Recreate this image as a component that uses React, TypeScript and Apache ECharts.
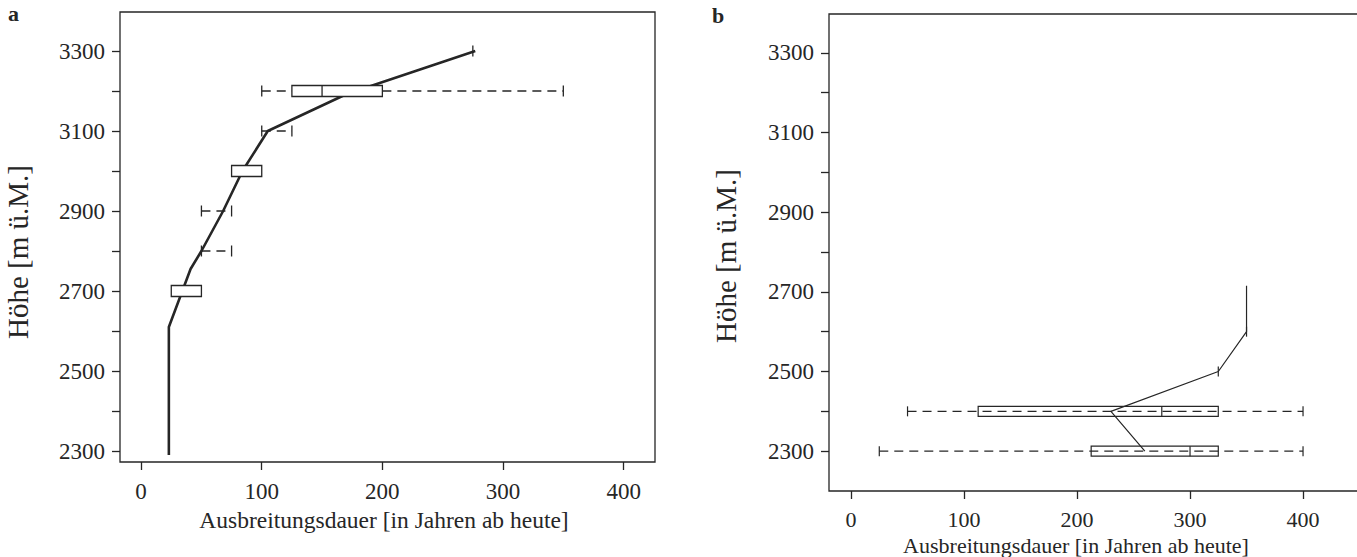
import React, { useEffect, useRef } from "react";
import * as echarts from "echarts";

// ---------- data ----------
const xTicks = [0, 100, 200, 300, 400];
const yTicks = [2300, 2400, 2500, 2600, 2700, 2800, 2900, 3000, 3100, 3200, 3300];
const yLabels = [2300, 2500, 2700, 2900, 3100, 3300];

// panel a: box / whisker rows
const aHeights = [2700, 2800, 2900, 3000, 3100, 3200, 3300];
const aMin = [25, 50, 50, 75, 100, 100, 275];
const aQ1 = [25, null, null, 75, null, 125, null];
const aMed = [null, null, null, null, null, 150, null];
const aQ3 = [50, null, null, 100, null, 200, null];
const aMax = [50, 75, 75, 100, 125, 350, 275];

// panel a: fitted line
const aLineX = [23, 23, 41, 50, 68, 84, 105, 170, 277];
const aLineY = [2290, 2610, 2755, 2800, 2900, 3000, 3100, 3192, 3300];

// panel b: box / whisker rows
const bHeights = [2300, 2400, 2500, 2600];
const bMin = [25, 50, 325, 350];
const bQ1 = [212.5, 112.5, null, null];
const bMed = [300, 275, null, null];
const bQ3 = [325, 325, null, null];
const bMax = [400, 400, 325, 350];

// panel b: line
const bLineX = [260, 230, 325, 350, 350];
const bLineY = [2300, 2400, 2500, 2600, 2715];

const xTitle = "Ausbreitungsdauer [in Jahren ab heute]";
const yTitle = "Höhe [m ü.M.]";

// ---------- helpers ----------
const INK = "#262626";
const FONT = '"Liberation Serif", "DejaVu Serif", serif';

const toRows = (h: number[], mn: any[], q1: any[], md: any[], q3: any[], mx: any[]) =>
  h.map((y, i) => [y, mn[i], q1[i] ?? "-", md[i] ?? "-", q3[i] ?? "-", mx[i]]);

const makeRender = (opts: { fill: string; through: boolean; halfH: number; lw: number }) =>
  (params: any, api: any) => {
    const y = api.value(0);
    const mn = api.value(1);
    const q1 = api.value(2);
    const md = api.value(3);
    const q3 = api.value(4);
    const mx = api.value(5);
    const xp = (v: number) => api.coord([v, y])[0];
    const yp = api.coord([0, y])[1];
    const h = opts.halfH;
    const hasBox = !isNaN(q1) && !isNaN(q3);
    const children: any[] = [];
    const dash = (a: number, b: number) =>
      children.push({
        type: "line",
        shape: { x1: xp(a), y1: yp, x2: xp(b), y2: yp },
        style: { stroke: INK, lineWidth: opts.lw, lineDash: [9, 6] },
      });
    const cap = (v: number) =>
      children.push({
        type: "line",
        shape: { x1: xp(v), y1: yp - h, x2: xp(v), y2: yp + h },
        style: { stroke: INK, lineWidth: opts.lw },
      });
    if (hasBox) {
      children.push({
        type: "rect",
        shape: { x: xp(q1), y: yp - h, width: xp(q3) - xp(q1), height: 2 * h },
        style: { fill: opts.fill, stroke: INK, lineWidth: opts.lw },
      });
      if (!isNaN(md)) {
        children.push({
          type: "line",
          shape: { x1: xp(md), y1: yp - h, x2: xp(md), y2: yp + h },
          style: { stroke: INK, lineWidth: opts.lw },
        });
      }
      if (opts.through) {
        if (mn < mx) dash(mn, mx);
      } else {
        if (mn < q1) dash(mn, q1);
        if (q3 < mx) dash(q3, mx);
      }
      if (mn < q1) cap(mn);
      if (q3 < mx) cap(mx);
    } else {
      if (mn < mx) dash(mn, mx);
      cap(mn);
      if (mx > mn) cap(mx);
    }
    return { type: "group", children };
  };

export default function App() {
  const ref = useRef<HTMLDivElement>(null);
  useEffect(() => {
    document.body.style.margin = "0";
    const chart = echarts.init(ref.current!, null, { renderer: "svg" });
    const xAxisOf = (gi: number, min: number, max: number, margin: number, fs: number) => ({
      type: "value",
      gridIndex: gi,
      min,
      max,
      axisLine: { show: false, onZero: false },
      splitLine: { show: false },
      axisTick: {
        show: true,
        inside: false,
        length: 8,
        customValues: xTicks,
        lineStyle: { color: INK, width: 1.3 },
      },
      axisLabel: {
        customValues: xTicks,
        margin,
        color: INK,
        fontFamily: FONT,
        fontSize: fs,
        lineHeight: fs,
        formatter: (v: number) => String(v),
      },
    });
    const yAxisOf = (gi: number, min: number, max: number) => ({
      type: "value",
      gridIndex: gi,
      min,
      max,
      axisLine: { show: false, onZero: false },
      splitLine: { show: false },
      axisTick: {
        show: true,
        inside: false,
        length: 8,
        customValues: yTicks,
        lineStyle: { color: INK, width: 1.3 },
      },
      axisLabel: {
        customValues: yLabels,
        margin: 15,
        color: INK,
        fontFamily: FONT,
        fontSize: 23,
        formatter: (v: number) => String(v),
      },
    });
    const titleText = (x: number, y: number, text: string, rot: number, size: number) => ({
      type: "text",
      x,
      y,
      rotation: rot,
      style: {
        text,
        align: "center",
        verticalAlign: "middle",
        fill: INK,
        fontFamily: FONT,
        fontSize: size,
        lineHeight: size,
      },
    });
    const letter = (x: number, y: number, text: string) => ({
      type: "text",
      x,
      y,
      style: {
        text,
        align: "left",
        verticalAlign: "top",
        fill: INK,
        fontFamily: FONT,
        fontWeight: "bold",
        fontSize: 22,
      },
    });
    chart.setOption({
      animation: false,
      backgroundColor: "#fff",
      grid: [
        {
          left: 120, top: 12, width: 535, height: 450,
          show: true, borderColor: INK, borderWidth: 1.3,
          outerBoundsMode: "none", containLabel: false,
        },
        {
          left: 829, top: 14, width: 545, height: 477,
          show: true, borderColor: INK, borderWidth: 1.3,
          outerBoundsMode: "none", containLabel: false,
        },
      ],
      xAxis: [xAxisOf(0, -17.5, 426, 18, 23), xAxisOf(1, -19.5, 462.8, 17, 22)],
      yAxis: [yAxisOf(0, 2272.5, 3397.5), yAxisOf(1, 2200, 3397.5)],
      graphic: [
        letter(8, 2, "a"),
        letter(712, 4, "b"),
        titleText(18, 252, yTitle, Math.PI / 2, 29),
        titleText(726, 256, yTitle, Math.PI / 2, 29),
        titleText(384, 520, xTitle, 0, 23.5),
        titleText(1076, 545, xTitle, 0, 22),
      ],
      series: [
        {
          type: "line",
          xAxisIndex: 0,
          yAxisIndex: 0,
          z: 2,
          data: aLineX.map((x, i) => [x, aLineY[i]]),
          showSymbol: false,
          lineStyle: { color: INK, width: 2.6 },
          silent: true,
        },
        {
          type: "custom",
          xAxisIndex: 0,
          yAxisIndex: 0,
          z: 3,
          renderItem: makeRender({ fill: "#fff", through: false, halfH: 5.5, lw: 1.3 }),
          encode: { x: [1, 5], y: 0 },
          data: toRows(aHeights, aMin, aQ1, aMed, aQ3, aMax),
        },
        {
          type: "custom",
          xAxisIndex: 1,
          yAxisIndex: 1,
          z: 2,
          renderItem: makeRender({ fill: "none", through: true, halfH: 5, lw: 1.2 }),
          encode: { x: [1, 5], y: 0 },
          data: toRows(bHeights, bMin, bQ1, bMed, bQ3, bMax),
        },
        {
          type: "line",
          xAxisIndex: 1,
          yAxisIndex: 1,
          z: 3,
          data: bLineX.map((x, i) => [x, bLineY[i]]),
          showSymbol: false,
          lineStyle: { color: INK, width: 1.2 },
          silent: true,
        },
      ],
    });
    return () => chart.dispose();
  }, []);
  return <div ref={ref} style={{ width: 1357, height: 557 }} />;
}
